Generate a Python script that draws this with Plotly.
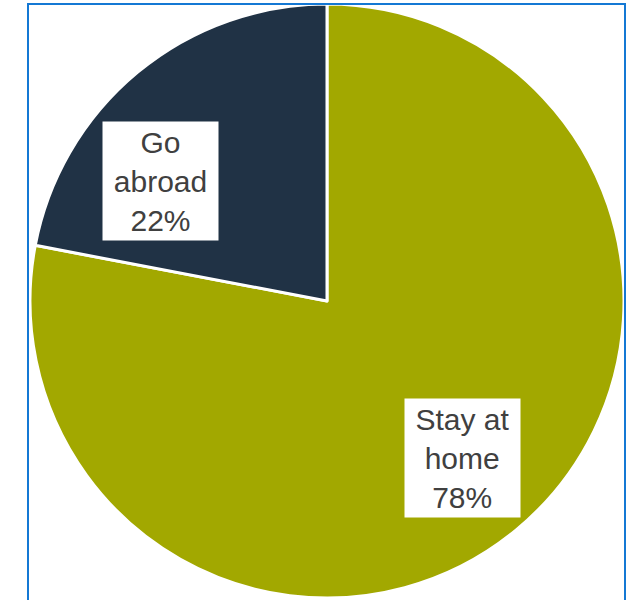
import plotly.graph_objects as go

categories = ["Stay at home", "Go abroad"]
values = [78, 22]
colors = ["#A2A800", "#203245"]

W, H = 626, 600
cx, cy, r = 327, 301, 297

fig = go.Figure(go.Pie(
    labels=categories,
    values=values,
    sort=False,
    direction="clockwise",
    rotation=0,
    marker=dict(colors=colors, line=dict(color="white", width=3)),
    textinfo="none",
    hoverinfo="label+percent",
    domain=dict(x=[(cx - r) / W, (cx + r) / W], y=[(H - cy - r) / H, (H - cy + r) / H]),
    showlegend=False,
))

label_pos = {"Go abroad": (160.5, 181), "Stay at home": (462.5, 457.5)}
total = sum(values)
for cat, v in zip(categories, values):
    px, py = label_pos[cat]
    words = cat.split(" ")
    if len(words) > 2:
        line1 = " ".join(words[:2]); line2 = " ".join(words[2:])
    else:
        line1 = words[0]; line2 = " ".join(words[1:])
    txt = f"{line1}<br>{line2}<br>{round(v / total * 100)}%"
    fig.add_annotation(
        x=px / W, y=1 - py / H, xref="paper", yref="paper",
        xanchor="center", yanchor="middle",
        text=txt, showarrow=False,
        font=dict(family="Liberation Sans, Arial", size=30, color="#404040"),
        bgcolor="white", width=113, height=116, borderpad=1,
        align="center", valign="middle",
    )

fig.add_shape(type="rect", xref="paper", yref="paper",
              x0=28 / W, x1=625 / W, y0=-0.05, y1=1 - 4 / H,
              line=dict(color="#1478D4", width=2), fillcolor="rgba(0,0,0,0)", layer="above")

fig.update_layout(
    width=W, height=H,
    margin=dict(l=0, r=0, t=0, b=0),
    paper_bgcolor="white", plot_bgcolor="white",
)

fig.write_html("out.html")
